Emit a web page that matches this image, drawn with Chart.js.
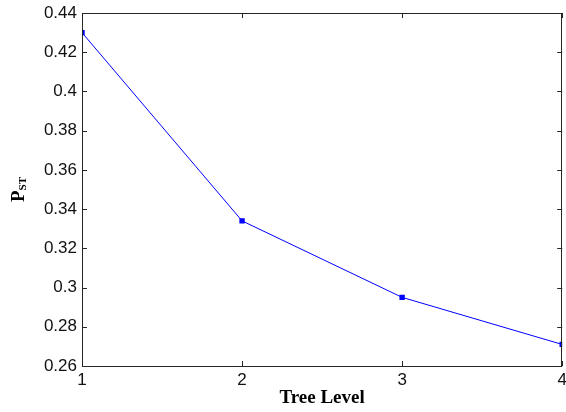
<!DOCTYPE html>
<html>
<head>
<meta charset="utf-8">
<script src="https://cdn.jsdelivr.net/npm/chart.js@4/dist/chart.umd.min.js"></script>
<style>
html,body{margin:0;padding:0;background:#fff;}
#wrap{width:566px;height:412px;position:relative;}
</style>
</head>
<body>
<div id="wrap"><canvas id="c" width="566" height="412"></canvas></div>
<script>
const treeLevels = [1, 2, 3, 4];
const pstValues = [0.430, 0.334, 0.295, 0.271];
const yTickValues = [0.26, 0.28, 0.30, 0.32, 0.34, 0.36, 0.38, 0.40, 0.42, 0.44];
const xTickValues = [1, 2, 3, 4];
const xAxisTitle = 'Tree Level';
const yAxisTitleMain = 'P';
const yAxisTitleSub = 'ST';

const frameColor = '#262626';
const tickFont = {family: '"Liberation Sans", Arial, sans-serif', size: 17};

const framePlugin = {
  id: 'matlabFrame',
  afterDatasetsDraw(chart) {
    const {ctx, chartArea: a, scales} = chart;
    const xs = scales.x, ys = scales.y;
    const L = 5;
    ctx.save();
    ctx.strokeStyle = frameColor;
    ctx.lineWidth = 1;
    ctx.beginPath();
    ctx.rect(Math.round(a.left) + 0.5, Math.round(a.top) + 0.5, Math.round(a.right - a.left) - 1, Math.round(a.bottom - a.top));
    ctx.stroke();
    ctx.beginPath();
    yTickValues.forEach(v => {
      const y = Math.round(ys.getPixelForValue(v)) + 0.5;
      ctx.moveTo(a.left, y); ctx.lineTo(a.left + L, y);
      ctx.moveTo(a.right, y); ctx.lineTo(a.right - L, y);
    });
    xTickValues.forEach(v => {
      const x = Math.round(xs.getPixelForValue(v)) + 0.5;
      ctx.moveTo(x, a.bottom); ctx.lineTo(x, a.bottom - L);
      ctx.moveTo(x, a.top); ctx.lineTo(x, a.top + L);
    });
    ctx.stroke();

    // axis titles
    ctx.fillStyle = '#000';
    ctx.font = 'bold 19px "Liberation Serif", "Times New Roman", serif';
    ctx.textAlign = 'center';
    ctx.textBaseline = 'alphabetic';
    ctx.fillText(xAxisTitle, (a.left + a.right) / 2, 403);

    ctx.translate(24, (a.top + a.bottom) / 2);
    ctx.rotate(-Math.PI / 2);
    ctx.textAlign = 'left';
    ctx.font = 'bold 19px "Liberation Serif", "Times New Roman", serif';
    const wP = ctx.measureText(yAxisTitleMain).width;
    ctx.font = 'bold 11px "Liberation Serif", "Times New Roman", serif';
    const wS = ctx.measureText(yAxisTitleSub).width;
    const start = -(wP + wS) / 2;
    ctx.font = 'bold 19px "Liberation Serif", "Times New Roman", serif';
    ctx.fillText(yAxisTitleMain, start, 0);
    ctx.font = 'bold 11px "Liberation Serif", "Times New Roman", serif';
    ctx.fillText(yAxisTitleSub, start + wP, 2);
    ctx.restore();
  }
};

new Chart(document.getElementById('c'), {
  type: 'line',
  data: {
    datasets: [{
      data: treeLevels.map((x, i) => ({x: x, y: pstValues[i]})),
      borderColor: '#0000ff',
      backgroundColor: '#0000ff',
      borderWidth: 1,
      pointStyle: 'rect',
      pointRadius: 3.8,
      pointHoverRadius: 3.8,
      pointBorderWidth: 0,
      tension: 0,
      fill: false
    }]
  },
  options: {
    responsive: false,
    animation: false,
    events: [],
    layout: {padding: {top: 13, right: 2, left: 0, bottom: 0}},
    plugins: {legend: {display: false}, tooltip: {enabled: false}},
    scales: {
      x: {
        type: 'linear',
        min: 1, max: 4,
        afterBuildTicks: s => { s.ticks = xTickValues.map(v => ({value: v})); },
        afterFit: s => { s.height = 46; s.paddingLeft = 0; s.paddingRight = 0; },
        grid: {display: false, drawTicks: false},
        border: {display: false},
        ticks: {color: '#111', font: tickFont, padding: 4, maxRotation: 0,
          callback: v => String(v)}
      },
      y: {
        type: 'linear',
        min: 0.26, max: 0.44,
        afterBuildTicks: s => { s.ticks = yTickValues.map(v => ({value: v})); },
        afterFit: s => { s.width = 82; s.paddingTop = 0; s.paddingBottom = 0; },
        grid: {display: false, drawTicks: false},
        border: {display: false},
        ticks: {color: '#111', font: tickFont, padding: 5,
          callback: v => String(parseFloat(Number(v).toFixed(2)))}
      }
    }
  },
  plugins: [framePlugin]
});
</script>
</body>
</html>
